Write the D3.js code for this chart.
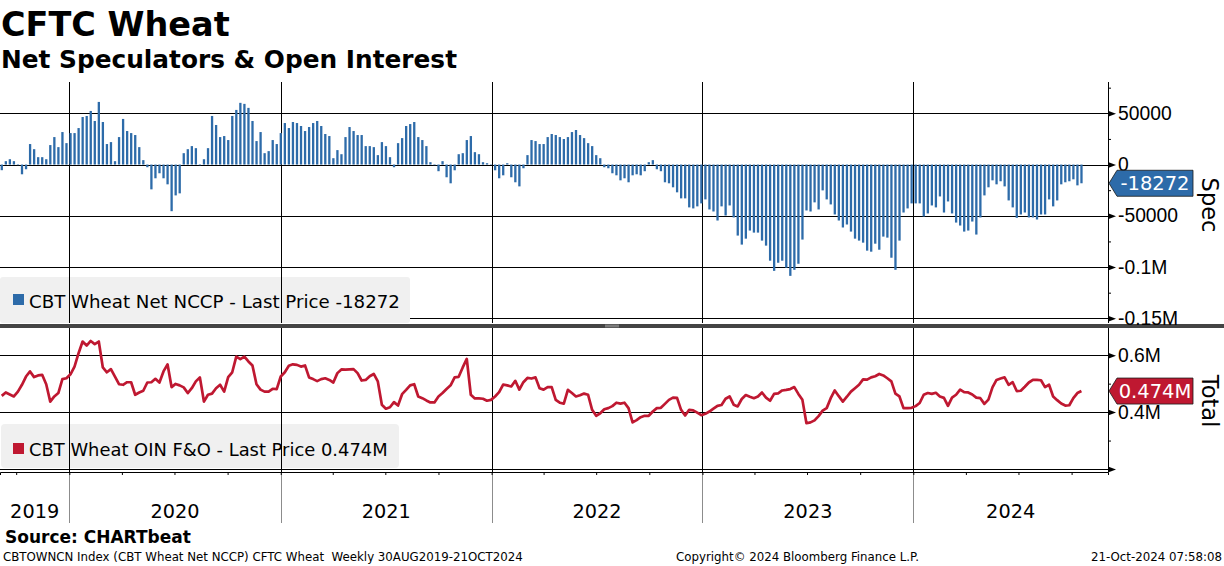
<!DOCTYPE html>
<html lang="en">
<head>
<meta charset="UTF-8">
<title>CFTC Wheat</title>
<style>
    body { margin: 0; background: #fff; overflow: hidden; }
    svg { display: block; font-family: "DejaVu Sans", Verdana, sans-serif; }
    .grid { stroke: #000; stroke-width: 1; shape-rendering: crispEdges; }
    .lbl { font-size: 19.3px; fill: #000; }
</style>
</head>
<body>
<svg></svg>
<script src="https://d3js.org/d3.v7.min.js"></script>
<script>
    /* data: weekly, first report date, CBT Wheat net NCCP and OIN F&O */
    const firstWeek = Date.UTC(2019, 8, 6);
    const specValues = [
        -5500, 3300, 5200, 3300, -600, -9500, -4600, 20000, 15000, 7200,
        7200, 5200, 19000, 26800, 17000, 31700, 20900, 30700, 30700, 35600,
        46400, 47400, 52300, 42500, 61100, 41500, 20000, 21900, 3300, 26800,
        44500, 32700, 30700, 28800, 17000, 4300, -2600, -24200, -13400, -8500,
        -13400, -19300, -45500, -30100, -28100, 11100, 15000, 18000, 16000, -700,
        5200, 16000, 47400, 38600, 26800, 27800, 23900, 47400, 53300, 60200,
        59200, 55300, 42500, 22900, 31700, 11100, 13100, 23900, 20000, 30700,
        40500, 35600, 41500, 40500, 37600, 32700, 36600, 40500, 42500, 37600,
        29800, 27800, 6200, 14100, 10100, 26800, 36600, 32700, 28800, 28800,
        18000, 18000, 17000, 9200, 21900, 18000, 7200, -2600, 20900,
        25800, 37600, 39500, 41500, 26800, 23900, 18000, 2300, -600, -6500,
        3300, -12400, -18300, -5600, 10100, 11100, 23900, 27800, 12100, 10100,
        2300, 1300, -400, -5600, -13400, -10500, 1300, -12400, -17300, -21300,
        -3600, 9200, 23900, 22900, 20000, 20000, 26800, 29800, 28800, 26800,
        24900, 26800, 31700, 33700, 28800, 25800, 20900, 18000, 9200, 6200,
        -2600, -3600, -8500, -10500, -15400, -13400, -17300, -10500, -9500, -10500,
        -6500, 2300, 4300, -4600, -6500, -17300, -18300, -22200, -27100, -33000,
        -33000, -41800, -42800, -40800, -37900, -34000, -43800, -45800, -54600, -40800,
        -49700, -39900, -51600, -69300, -78100, -72300, -64400, -66400, -66400, -74200,
        -79100, -93800, -103700, -95800, -93800, -100700, -108600, -102700, -96800,
        -73200, -44800, -45800, -36900, -43800, -25200, -34000, -38900, -48700, -54600,
        -61400, -58500, -65400, -72300, -74200, -76200, -84000, -85000, -77200, -83100,
        -70300, -71300, -90900, -102700, -74200, -46800, -42800, -37900, -37900, -37900,
        -50700, -47700, -39900, -41800, -31100, -46800, -36000, -47700, -56600, -59500,
        -65400, -64400, -55600, -68300, -51600, -30100, -22200, -15400, -19300, -16300,
        -21300, -35000, -41800, -52000, -48700, -46800, -51600, -51600, -53600, -48700,
        -48700, -34000, -40800, -35000, -19300, -17300, -16300, -14400, -20300, -18272
    ];
    const totalValues = [
        457000, 469000, 462000, 455000, 472000, 496000, 525000, 543000, 523000, 529000,
        531000, 498000, 437000, 455000, 467000, 516000, 519000, 533000, 560000, 607000,
        648000, 634000, 650000, 639000, 648000, 557000, 540000, 551000, 525000, 498000,
        496000, 505000, 505000, 461000, 469000, 475000, 504000, 505000, 517000, 504000,
        543000, 568000, 488000, 499000, 494000, 487000, 467000, 484000, 508000, 522000,
        437000, 461000, 465000, 484000,
        496000, 472000, 523000, 540000, 595000, 586000, 595000, 578000, 564000, 498000,
        479000, 472000, 472000, 482000, 481000, 525000, 540000, 563000, 568000, 566000,
        560000, 564000, 522000, 516000, 509000, 516000, 519000, 513000, 504000, 537000,
        550000, 549000, 550000, 551000, 537000, 511000, 513000, 526000, 534000, 508000,
        426000, 412000, 417000, 435000, 423000, 463000, 478000, 494000, 498000, 455000,
        449000, 441000, 434000, 434000,
        455000, 467000, 481000, 494000, 522000, 524000, 557000, 587000, 461000, 448000,
        448000, 447000, 440000, 443000, 455000, 470000, 497000, 494000, 490000, 510000,
        479000, 505000, 520000, 518000, 522000, 484000, 479000, 488000, 488000, 443000,
        433000, 430000, 478000, 467000, 455000, 459000, 465000, 461000, 408000, 387000,
        396000, 410000, 414000, 421000, 433000, 430000, 433000, 414000, 364000, 372000,
        382000, 387000, 387000,
        402000, 414000, 415000, 429000, 443000, 451000, 450000, 408000, 388000, 408000,
        406000, 398000, 389000, 394000, 402000, 412000, 422000, 425000, 447000, 455000,
        426000, 420000, 446000, 460000, 454000, 449000, 455000, 469000, 451000, 440000,
        464000, 466000, 476000, 478000, 481000, 488000, 464000, 443000, 361000, 364000,
        371000, 386000, 405000, 414000, 449000, 476000, 456000, 437000, 454000, 472000,
        484000, 496000, 515000, 514000,
        522000, 526000, 534000, 529000, 519000, 508000, 465000, 455000, 414000, 414000,
        415000, 421000, 432000, 461000, 467000, 464000, 468000, 455000, 450000, 422000,
        451000, 461000, 479000, 470000, 469000, 462000, 451000, 449000, 429000, 444000,
        487000, 513000, 518000, 522000, 496000, 505000, 474000, 475000, 489000, 504000,
        513000, 513000, 512000, 488000, 496000, 455000, 442000, 430000, 423000, 424000,
        449000, 467000, 474000
    ];
    const specTicks = [50000, 0, -50000, -100000, -150000];
    const specMinor = [75000, 25000, -25000, -75000, -125000];
    const totalTicks = [600000, 400000, 200000];
    const totalMinor = [500000, 300000];
    const years = [2019, 2020, 2021, 2022, 2023, 2024];

    /* layout */
    const width = 1224;
    const height = 566;
    const plotRight = 1108;
    const top0 = 82, top1 = 323;
    const bot0 = 328, bot1 = 472;
    const blue = "#2d6ba9";
    const red = "#bf1831";

    const svg = d3.select("svg").attr("width", width).attr("height", height);

    const weeks = specValues.map((v, i) => new Date(firstWeek + i * 7 * 864e5));

    const x = d3.scaleUtc()
        .domain([new Date(Date.UTC(2019, 8, 3)), new Date(Date.UTC(2024, 11, 3))])
        .range([0, plotRight]);
    const ySpec = d3.scaleLinear().domain([50000, -150000]).range([113.3, 318.3]);
    const yTot = d3.scaleLinear().domain([600000, 200000]).range([355.2, 469]);

    /* horizontal grid */
    svg.selectAll(".gs").data(specTicks).enter().append("line")
        .attr("class", "grid")
        .attr("x1", 0).attr("x2", plotRight)
        .attr("y1", (d) => Math.round(ySpec(d)) + 0.5).attr("y2", (d) => Math.round(ySpec(d)) + 0.5);
    svg.selectAll(".gt").data(totalTicks).enter().append("line")
        .attr("class", "grid")
        .attr("x1", 0).attr("x2", plotRight)
        .attr("y1", (d) => Math.round(yTot(d)) + 0.5).attr("y2", (d) => Math.round(yTot(d)) + 0.5);

    /* legend boxes */
    svg.append("rect").attr("x", 0).attr("y", 277).attr("width", 410).attr("height", 46)
        .attr("rx", 3).attr("fill", "#f0f0f0");
    svg.append("rect").attr("x", 1).attr("y", 424).attr("width", 398).attr("height", 44)
        .attr("rx", 4).attr("fill", "#f0f0f0");

    /* year lines */
    const yearStarts = years.slice(1).map((y) => new Date(Date.UTC(y, 0, 1)));
    yearStarts.forEach((d) => {
        const xx = Math.round(x(d)) + 0.5;
        svg.append("line").attr("class", "grid").attr("x1", xx).attr("x2", xx).attr("y1", top0).attr("y2", top1);
        svg.append("line").attr("class", "grid").attr("x1", xx).attr("x2", xx).attr("y1", bot0).attr("y2", bot1);
        svg.append("line").attr("x1", xx).attr("x2", xx).attr("y1", bot1).attr("y2", 523)
            .attr("stroke", "#8c8c8c").attr("shape-rendering", "crispEdges");
    });

    /* bars */
    svg.append("g").selectAll("rect").data(specValues).enter().append("rect")
        .attr("x", (d, i) => x(weeks[i]) - 1.1)
        .attr("width", 2.3)
        .attr("y", (d) => Math.min(ySpec(d), ySpec(0)))
        .attr("height", (d) => Math.abs(ySpec(d) - ySpec(0)))
        .attr("fill", blue);

    /* line */
    svg.append("path")
        .datum(totalValues)
        .attr("fill", "none")
        .attr("stroke", red)
        .attr("stroke-width", 2.7)
        .attr("stroke-linejoin", "round")
        .attr("d", d3.line().x((d, i) => x(weeks[i])).y((d) => yTot(d)));

    /* separator */
    svg.append("rect").attr("x", 0).attr("y", 324).attr("width", width).attr("height", 4).attr("fill", "#444");
    [325.2, 326.8].forEach((yy) => svg.append("line").attr("x1", 605).attr("x2", 619)
        .attr("y1", yy).attr("y2", yy).attr("stroke", "#aaa").attr("stroke-width", 0.8));

    /* x axis */
    const xAxis = d3.axisBottom(x).ticks(d3.utcMonth.every(3)).tickSize(3).tickFormat("");
    const gx = svg.append("g").attr("transform", `translate(0,${bot1})`).call(xAxis);
    gx.select(".domain").attr("stroke", "#000");
    gx.selectAll(".tick line").attr("stroke", "#000");
    svg.selectAll(".yr").data(years).enter().append("text")
        .attr("class", "lbl")
        .attr("x", (y) => {
            const a = Math.max(0, x(new Date(Date.UTC(y, 0, 1))));
            const b = Math.min(plotRight, x(new Date(Date.UTC(y + 1, 0, 1))));
            return (a + b) / 2;
        })
        .attr("y", 518)
        .attr("text-anchor", "middle")
        .text((y) => y);

    /* right axes */
    const specFmt = (v) => Math.abs(v) >= 100000 ? `${v / 1e6}M` : `${v}`;
    const totFmt = (v) => v === 200000 ? "" : `${v / 1e6}M`;
    const arrow = (g) => g.selectAll(".tick").append("path").attr("d", "M0,-3L8,0L0,3Z").attr("fill", "#000");

    const gSpec = svg.append("g").attr("transform", `translate(${plotRight},0)`)
        .call(d3.axisRight(ySpec).tickValues(specTicks).tickSize(0).tickPadding(10).tickFormat(specFmt));
    gSpec.select(".domain").remove();
    arrow(gSpec);
    svg.append("g").attr("transform", `translate(${plotRight},0)`)
        .call(d3.axisRight(ySpec).tickValues(specMinor).tickSize(3).tickFormat(""))
        .select(".domain").remove();

    const gTot = svg.append("g").attr("transform", `translate(${plotRight},0)`)
        .call(d3.axisRight(yTot).tickValues(totalTicks).tickSize(0).tickPadding(10).tickFormat(totFmt));
    gTot.select(".domain").remove();
    arrow(gTot);
    svg.append("g").attr("transform", `translate(${plotRight},0)`)
        .call(d3.axisRight(yTot).tickValues(totalMinor).tickSize(3).tickFormat(""))
        .select(".domain").remove();

    svg.selectAll(".tick text").attr("class", "lbl").attr("font-family", null).attr("font-size", null);
    svg.append("line").attr("class", "grid").attr("x1", plotRight + 0.5).attr("x2", plotRight + 0.5).attr("y1", top0).attr("y2", top1);
    svg.append("line").attr("class", "grid").attr("x1", plotRight + 0.5).attr("x2", plotRight + 0.5).attr("y1", bot0).attr("y2", bot1);

    /* last value tags */
    const tag = (yc, fill, label) => {
        svg.append("path")
            .attr("d", `M1109,${yc}L1117,${yc - 13}L1193,${yc - 13}L1193,${yc + 13}L1117,${yc + 13}Z`)
            .attr("fill", fill).attr("stroke", "#1a1a1a").attr("stroke-width", 0.8);
        svg.append("text").attr("x", 1155).attr("y", yc + 7).attr("text-anchor", "middle")
            .attr("fill", "#fff").attr("font-size", "19.5px").text(label);
    };
    const lastSpec = specValues[specValues.length - 1];
    const lastTot = totalValues[totalValues.length - 1];
    tag(ySpec(lastSpec), blue, `${lastSpec}`);
    tag(yTot(lastTot), red, `${(lastTot / 1e6).toFixed(3)}M`);

    /* axis titles */
    svg.append("text").attr("transform", "translate(1202,205) rotate(90)")
        .attr("text-anchor", "middle").attr("font-size", "22.5px").text("Spec");
    svg.append("text").attr("transform", "translate(1202,401) rotate(90)")
        .attr("text-anchor", "middle").attr("font-size", "22.5px").text("Total");

    /* legends */
    svg.append("rect").attr("x", 13).attr("y", 294).attr("width", 11).attr("height", 11).attr("fill", blue);
    svg.append("text").attr("x", 29).attr("y", 307.5).attr("font-size", "18.2px")
        .text(`CBT Wheat Net NCCP - Last Price ${lastSpec}`);
    svg.append("rect").attr("x", 13).attr("y", 443).attr("width", 11).attr("height", 11).attr("fill", red);
    svg.append("text").attr("x", 29).attr("y", 456).attr("font-size", "17.9px")
        .text(`CBT Wheat OIN F&O - Last Price ${(lastTot / 1e6).toFixed(3)}M`);

    /* titles */
    svg.append("text").attr("x", 1).attr("y", 36).attr("font-size", "33.5px").attr("font-weight", "bold").text("CFTC Wheat");
    svg.append("text").attr("x", 1).attr("y", 68).attr("font-size", "24.8px").attr("font-weight", "bold").text("Net Speculators & Open Interest");

    /* footer */
    svg.append("text").attr("x", 5).attr("y", 543).attr("font-size", "17px").attr("font-weight", "bold").text("Source: CHARTbeat");
    const foot = svg.append("g").attr("font-size", "11.8px");
    foot.append("text").attr("x", 3).attr("y", 561).attr("xml:space", "preserve").style("white-space", "pre")
        .text("CBTOWNCN Index (CBT Wheat Net NCCP) CFTC Wheat  Weekly 30AUG2019-21OCT2024");
    foot.append("text").attr("x", 676).attr("y", 561).text("Copyright\u00a9 2024 Bloomberg Finance L.P.");
    foot.append("text").attr("x", 1222).attr("y", 561).attr("text-anchor", "end").text("21-Oct-2024 07:58:08");
</script>
</body>
</html>
